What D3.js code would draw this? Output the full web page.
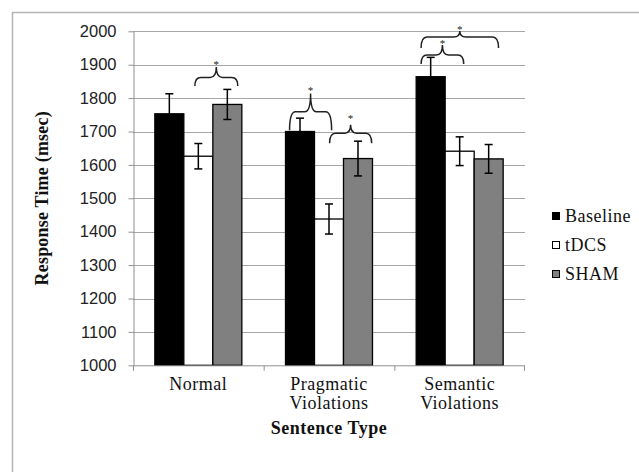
<!DOCTYPE html>
<html>
<head>
<meta charset="utf-8">
<script src="https://cdn.jsdelivr.net/npm/d3@7"></script>
<style>
  html, body { margin: 0; padding: 0; background: #fff; }
  svg { display: block; }
</style>
</head>
<body>
<svg id="chart" width="639" height="472"></svg>
<script>
// ---- data ----
const categories = [["Normal"], ["Pragmatic", "Violations"], ["Semantic", "Violations"]];
const categoryKeys = ["Normal", "Pragmatic Violations", "Semantic Violations"];
const series = ["Baseline", "tDCS", "SHAM"];
const baselineValues = [1753, 1700, 1864];
const tdcsValues = [1626, 1438, 1641];
const shamValues = [1781, 1619, 1618];
const baselineErrors = [60, 40, 58];
const tdcsErrors = [38, 45, 43];
const shamErrors = [45, 52, 43];
const yTicks = [1000, 1100, 1200, 1300, 1400, 1500, 1600, 1700, 1800, 1900, 2000];
// significance braces: category index, span in bar units, values of hook end, line, tip, star
const braces = [
  { cat: 0, from: 1.38, to: 2.86, end: 1836, level: 1862, tip: 1893, star: 1905 },
  { cat: 1, from: 0.14, to: 1.59, end: 1704, level: 1759, tip: 1814, star: 1826 },
  { cat: 1, from: 1.52, to: 2.97, end: 1665, level: 1695, tip: 1720, star: 1743 },
  { cat: 2, from: 0.17, to: 1.64, end: 1902, level: 1929, tip: 1959, star: 1968 },
  { cat: 2, from: 0.17, to: 2.84, end: 1950, level: 1983, tip: 2001, star: 2010 }
];

const valuesBySeries = [baselineValues, tdcsValues, shamValues];
const errorsBySeries = [baselineErrors, tdcsErrors, shamErrors];
const fills = ["#000000", "#ffffff", "#808080"];

const svg = d3.select("#chart");
const serif = "'Liberation Serif', 'Times New Roman', serif";
const sans = "'Liberation Sans', Arial, sans-serif";

// frame
svg.append("path").attr("d", "M12.5,472 L12.5,12.5 L639,12.5")
  .attr("fill", "none").attr("stroke", "#b4b4b4").attr("stroke-width", 1.5);

const plot = { left: 133, right: 525, top: 31.3, bottom: 365.3 };

const y = d3.scaleLinear().domain([1000, 2000]).range([plot.bottom, plot.top]);
const x0 = d3.scaleBand().domain(categoryKeys).range([plot.left, plot.right]).padding(0);
const x1 = d3.scaleBand().domain(series).range([0, x0.bandwidth()]).paddingInner(0).paddingOuter(0.753);

// gridlines
svg.append("g").selectAll("line").data(yTicks.filter(t => t > 1000)).join("line")
  .attr("x1", plot.left).attr("x2", plot.right)
  .attr("y1", d => Math.round(y(d)) + 0.5).attr("y2", d => Math.round(y(d)) + 0.5)
  .attr("stroke", "#a6a6a6").attr("stroke-width", 1);

// y axis
const yAxis = svg.append("g").attr("transform", `translate(${plot.left + 0.5},0)`)
  .call(d3.axisLeft(y).tickValues(yTicks).tickSize(5).tickSizeOuter(0).tickPadding(12).tickFormat(d3.format("d")));
yAxis.select(".domain").attr("stroke", "#909090");
yAxis.selectAll(".tick line").attr("stroke", "#909090");
yAxis.selectAll(".tick text").attr("font-family", sans).attr("font-size", 16.5).attr("fill", "#222");

// bars
const groups = svg.append("g").selectAll("g").data(categoryKeys).join("g")
  .attr("transform", d => `translate(${x0(d)},0)`);
groups.each(function(cat, ci) {
  const g = d3.select(this);
  series.forEach((s, si) => {
    const v = valuesBySeries[si][ci];
    g.append("rect")
      .attr("x", x1(s)).attr("width", x1.bandwidth())
      .attr("y", y(v)).attr("height", y(1000) - y(v))
      .attr("fill", fills[si]).attr("stroke", "#000").attr("stroke-width", 1.3);
  });
});

// x axis
const xAxis = svg.append("g").attr("transform", `translate(0,${plot.bottom + 0.5})`);
xAxis.append("line").attr("x1", plot.left).attr("x2", plot.right).attr("stroke", "#909090");
xAxis.selectAll("line.tk").data(categoryKeys.concat(["end"])).join("line").attr("class", "tk")
  .attr("x1", (d, i) => i < categoryKeys.length ? x0(d) + 0.5 : plot.right - 0.5)
  .attr("x2", (d, i) => i < categoryKeys.length ? x0(d) + 0.5 : plot.right - 0.5)
  .attr("y1", 0).attr("y2", 5).attr("stroke", "#909090");

// error bars
groups.each(function(cat, ci) {
  const g = d3.select(this);
  series.forEach((s, si) => {
    const v = valuesBySeries[si][ci], e = errorsBySeries[si][ci];
    const cx = x1(s) + x1.bandwidth() / 2;
    g.append("line").attr("x1", cx).attr("x2", cx).attr("y1", y(v + e)).attr("y2", y(v - e))
      .attr("stroke", "#000").attr("stroke-width", 1.5);
    [v + e, v - e].forEach(t => g.append("line").attr("x1", cx - 4).attr("x2", cx + 4)
      .attr("y1", y(t)).attr("y2", y(t)).attr("stroke", "#000").attr("stroke-width", 1.5));
  });
});

// category labels
const catLab = svg.append("g").selectAll("text").data(categories).join("text")
  .attr("x", (d, i) => x0(categoryKeys[i]) + x0.bandwidth() / 2)
  .attr("y", 389.5)
  .attr("text-anchor", "middle").attr("font-family", serif).attr("font-size", 18)
  .attr("letter-spacing", 0.5).attr("fill", "#111");
catLab.selectAll("tspan").data(d => d).join("tspan")
  .attr("x", function() { return d3.select(this.parentNode).attr("x"); })
  .attr("dy", (d, i) => i === 0 ? 0 : 19).text(d => d);

// axis titles
svg.append("text").attr("x", (plot.left + plot.right) / 2).attr("y", 433.5)
  .attr("text-anchor", "middle").attr("font-family", serif).attr("font-weight", "bold")
  .attr("font-size", 18).attr("letter-spacing", 0.5).attr("fill", "#111").text("Sentence Type");
svg.append("text").attr("transform", `translate(47.5,${(plot.top + plot.bottom) / 2}) rotate(-90)`)
  .attr("text-anchor", "middle").attr("font-family", serif).attr("font-weight", "bold")
  .attr("font-size", 18).attr("letter-spacing", 0.2).attr("fill", "#111").text("Response Time (msec)");

// braces
const braceG = svg.append("g");
braces.forEach(b => {
  const base = x0(categoryKeys[b.cat]) + x1(series[0]);
  const xa = base + b.from * x1.bandwidth();
  const xb = base + b.to * x1.bandwidth();
  const xm = (xa + xb) / 2;
  const ye = y(b.end), yl = y(b.level), yt = y(b.tip);
  const r = Math.min(6, (xb - xa) / 6);
  const path = d3.path();
  path.moveTo(xa, ye);
  path.quadraticCurveTo(xa, yl, xa + r, yl);
  path.lineTo(xm - r, yl);
  path.quadraticCurveTo(xm, yl, xm, yt);
  path.quadraticCurveTo(xm, yl, xm + r, yl);
  path.lineTo(xb - r, yl);
  path.quadraticCurveTo(xb, yl, xb, ye);
  braceG.append("path").attr("d", path.toString()).attr("fill", "none")
    .attr("stroke", "#222").attr("stroke-width", 1.5);
  braceG.append("text").attr("x", xm).attr("y", y(b.star) + 5)
    .attr("text-anchor", "middle").attr("font-family", serif).attr("font-size", 11)
    .attr("fill", "#222").text("*");
});

// legend
const legend = svg.append("g").selectAll("g").data(series).join("g")
  .attr("transform", (d, i) => `translate(552,${216 + i * 29})`);
legend.append("rect").attr("x", 0.5).attr("y", -3.5).attr("width", 7).attr("height", 7)
  .attr("fill", (d, i) => fills[i]).attr("stroke", "#000").attr("stroke-width", 1);
legend.append("text").attr("x", 13).attr("y", 6)
  .attr("font-family", serif).attr("font-size", 18).attr("letter-spacing", 0.5)
  .attr("fill", "#111").text(d => d);
</script>
</body>
</html>
